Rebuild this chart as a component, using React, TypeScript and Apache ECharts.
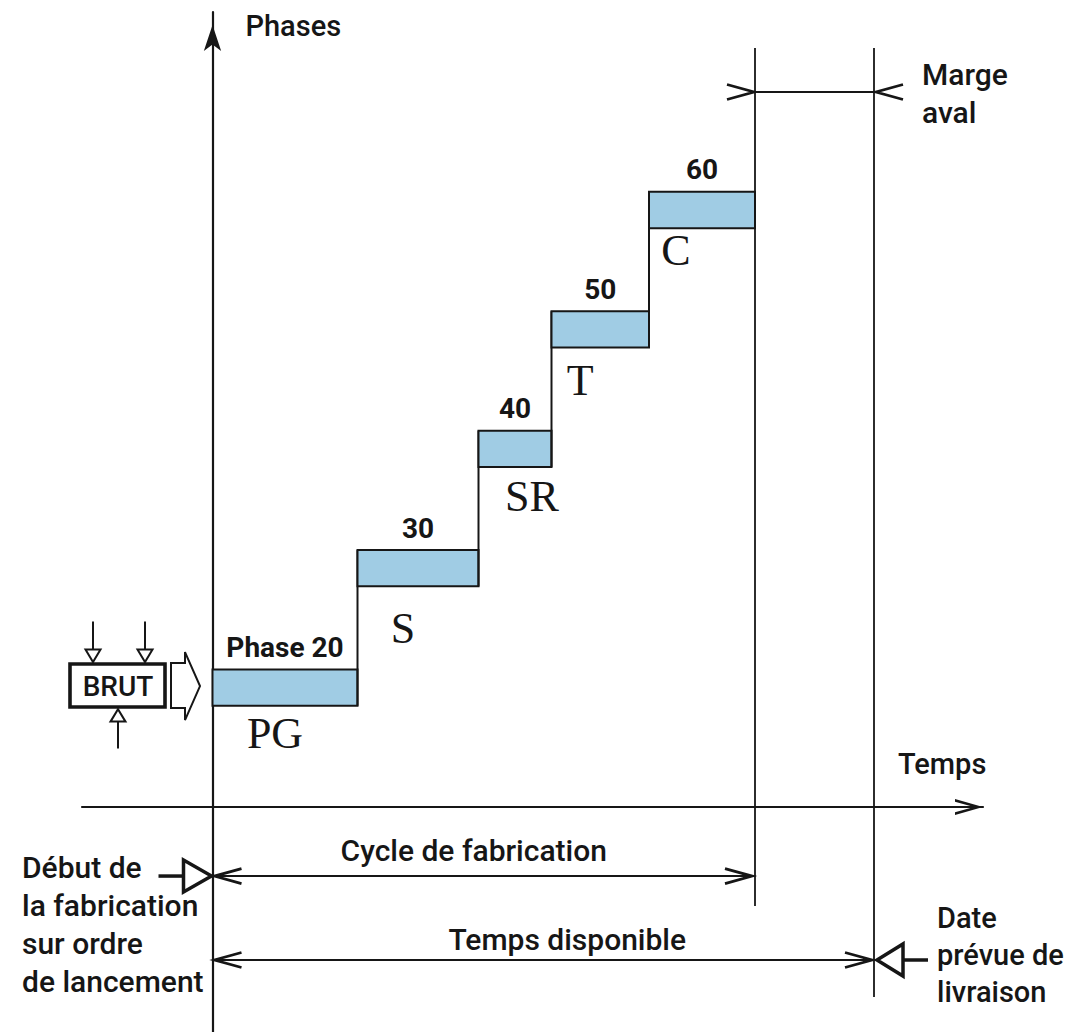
import React, { useEffect, useRef } from "react";
import * as echarts from "echarts";

// ---------- data ----------
const phaseLabels = ["Phase 20", "30", "40", "50", "60"];
const workCentres = ["PG", "S", "SR", "T", "C"];
const phaseStart = [0, 29, 53.2, 67.8, 87.3];
const phaseEnd = [29, 53.2, 67.8, 87.3, 108.5];
const launchDate = 0;
const dueDate = 132.3;

// ---------- layout ----------
const X_MIN = -26.1;
const X_MAX = 154.1;
const Y_MIN = -1.884;
const Y_MAX = 6.658;
const BAR_HALF = 0.152;
const codeDx = [-10, -15, 17, -20, -26];
const codeDy = [28, 42, 30, 33, 22];
const INK = "#161616";
const BAR_FILL = "#a0cce4";
const SANS = "Roboto, 'Liberation Sans', Arial, sans-serif";
const SERIF = "'Liberation Serif', 'Times New Roman', serif";

const chevronUp = "path://M0,28 L8,0 L16,28 L13.2,28 L8,9 L2.8,28 Z";

function txt(text: string, x: number, y: number, size: number, opts: any = {}) {
  return {
    type: "text",
    x,
    y,
    style: {
      text,
      fill: INK,
      fontSize: size,
      fontFamily: opts.family || SANS,
      fontWeight: opts.weight || 500,
      align: opts.align || "center",
      verticalAlign: "middle",
      lineHeight: opts.lineHeight || size * 1.2,
    },
  };
}
function seg(x1: number, y1: number, x2: number, y2: number, w = 2) {
  return { type: "line", shape: { x1, y1, x2, y2 }, style: { stroke: INK, lineWidth: w } };
}
function chev(tx: number, ty: number, dir: number, len = 27, half = 7.5, w = 2.8) {
  return {
    type: "polyline",
    shape: { points: [[tx - dir * len, ty - half], [tx, ty], [tx - dir * len, ty + half]] },
    style: { stroke: INK, lineWidth: w, fill: null, lineJoin: "miter" },
  };
}
function poly(points: number[][], w = 2) {
  return { type: "polygon", shape: { points }, style: { stroke: INK, lineWidth: w, fill: "#fff", lineJoin: "miter" } };
}

export default function App() {
  const ref = useRef<HTMLDivElement>(null);
  useEffect(() => {
    if (!ref.current) return;
    const chart = echarts.init(ref.current, null, { renderer: "svg" });
    const cycleEnd = phaseEnd[phaseEnd.length - 1];

    const phaseData = phaseStart.map((s, i) => [s, phaseEnd[i], i + 1]);

    chart.setOption({
      animation: false,
      backgroundColor: "#ffffff",
      grid: { left: 82, right: 91, top: 12, bottom: 0 },
      xAxis: {
        type: "value",
        min: X_MIN,
        max: X_MAX,
        axisLine: {
          show: true,
          onZero: true,
          symbol: ["none", chevronUp],
          symbolSize: [16, 28],
          symbolOffset: [0, -14],
          lineStyle: { color: INK, width: 2.2 },
        },
        axisTick: { show: false },
        axisLabel: { show: false },
        splitLine: { show: false },
      },
      yAxis: {
        type: "value",
        min: Y_MIN,
        max: Y_MAX,
        axisLine: {
          show: true,
          onZero: true,
          symbol: ["none", "arrow"],
          symbolSize: [13, 26],
          symbolOffset: [0, -13],
          lineStyle: { color: INK, width: 2.2 },
        },
        axisTick: { show: false },
        axisLabel: { show: false },
        splitLine: { show: false },
      },
      series: [
        {
          type: "custom",
          name: "phases",
          data: phaseData,
          encode: { x: [0, 1], y: 2 },
          renderItem: (params: any, api: any) => {
            const i = params.dataIndex;
            const s = api.value(0);
            const e = api.value(1);
            const lv = api.value(2);
            const tl = api.coord([s, lv + BAR_HALF]);
            const br = api.coord([e, lv - BAR_HALF]);
            const children: any[] = [];
            if (i > 0) {
              const prevBottom = api.coord([s, lv - 1 - BAR_HALF]);
              children.push(seg(tl[0], tl[1], tl[0], prevBottom[1], 2));
            }
            children.push({
              type: "rect",
              shape: { x: tl[0], y: tl[1], width: br[0] - tl[0], height: br[1] - tl[1] },
              style: { fill: BAR_FILL, stroke: INK, lineWidth: 2 },
            });
            const cx = (tl[0] + br[0]) / 2;
            children.push(txt(phaseLabels[i], cx, tl[1] - 22, 28, { weight: "bold" }));
            children.push(txt(workCentres[i], cx + codeDx[i], br[1] + codeDy[i], 44, { family: SERIF, weight: "normal" }));
            return { type: "group", children };
          },
        },
        {
          type: "custom",
          name: "annotations",
          data: [[0, 0]],
          encode: { x: 0, y: 1 },
          renderItem: (_params: any, api: any) => {
            const X = (v: number) => api.coord([v, 0])[0];
            const Y = (v: number) => api.coord([0, v])[1];
            const x0 = X(launchDate);
            const xc = X(cycleEnd);
            const xd = X(dueDate);
            const yTop = Y(6.357);
            const yMarge = Y(5.988);
            const yCycle = Y(-0.578);
            const yAvail = Y(-1.281);
            const yAxis0 = Y(0);
            const yL1 = Y(1);
            const c: any[] = [];
            // vertical reference lines
            c.push(seg(xc, yTop, xc, Y(-0.829), 1.8));
            c.push(seg(xd, yTop, xd, Y(-1.591), 1.8));
            // marge aval
            c.push(seg(xc, yMarge, xd, yMarge, 1.8));
            c.push(chev(xc - 1, yMarge, 1));
            c.push(chev(xd + 2, yMarge, -1));
            c.push(txt("Marge\naval", xd + 48, yMarge + 1, 30, { align: "left", lineHeight: 38 }));
            // cycle de fabrication
            c.push(seg(x0 + 2, yCycle, xc - 2, yCycle, 2));
            c.push(chev(x0 + 2, yCycle, -1));
            c.push(chev(xc - 3, yCycle, 1));
            c.push(txt("Cycle de fabrication", (x0 + xc) / 2 - 10, yCycle - 26, 30));
            // temps disponible
            c.push(seg(x0 + 2, yAvail, xd - 2, yAvail, 2));
            c.push(chev(x0 + 2, yAvail, -1));
            c.push(chev(xd - 2, yAvail, 1));
            c.push(txt("Temps disponible", (x0 + xd) / 2 + 24, yAvail - 20, 30));
            // start marker
            c.push(seg(x0 - 54, yCycle, x0 - 29, yCycle, 3.5));
            c.push(poly([[x0 - 1, yCycle], [x0 - 29, yCycle - 16], [x0 - 29, yCycle + 16]], 3.5));
            c.push(txt("Début de\nla fabrication\nsur ordre\nde lancement", x0 - 190.5, yCycle + 48, 30, { align: "left", lineHeight: 38 }));
            // due date marker
            c.push(seg(xd + 29, yAvail, xd + 54, yAvail, 3.5));
            c.push(poly([[xd + 3, yAvail], [xd + 29, yAvail - 16], [xd + 29, yAvail + 16]], 3.5));
            c.push(txt("Date\nprévue de\nlivraison", xd + 63, yAvail - 5, 29, { align: "left", lineHeight: 37 }));
            // axis titles
            c.push(txt("Temps", xd + 24, yAxis0 - 43, 29, { align: "left" }));
            c.push(txt("Phases", x0 + 33, Y(Y_MAX) + 14, 29, { align: "left" }));
            // BRUT (raw material) block
            c.push({
              type: "rect",
              shape: { x: x0 - 142.5, y: yL1 - 23.6, width: 95, height: 43 },
              style: { fill: "#fff", stroke: INK, lineWidth: 3.6 },
            });
            c.push(txt("BRUT", x0 - 94.5, yL1 - 1.5, 28));
            [x0 - 119.5, x0 - 67.5].forEach((ax) => {
              c.push(seg(ax, yL1 - 66, ax, yL1 - 38, 2));
              c.push(poly([[ax - 7.5, yL1 - 38], [ax + 7.5, yL1 - 38], [ax, yL1 - 25.5]], 2));
            });
            const ux = x0 - 94.5;
            c.push(seg(ux, yL1 + 61, ux, yL1 + 34, 2));
            c.push(poly([[ux - 7.5, yL1 + 34], [ux + 7.5, yL1 + 34], [ux, yL1 + 21.5]], 2));
            // hollow block arrow
            c.push(poly([
              [x0 - 41.5, yL1 - 24.5],
              [x0 - 27.5, yL1 - 24.5],
              [x0 - 27.5, yL1 - 35.5],
              [x0 - 12.5, yL1 - 1.5],
              [x0 - 27.5, yL1 + 32.5],
              [x0 - 27.5, yL1 + 20.5],
              [x0 - 41.5, yL1 + 20.5],
            ], 2));
            return { type: "group", children: c };
          },
        },
      ],
    });
    return () => chart.dispose();
  }, []);
  return (
    <div
      ref={ref}
      style={{ position: "fixed", left: 0, top: 0, width: 1074, height: 1032, background: "#fff" }}
    />
  );
}
